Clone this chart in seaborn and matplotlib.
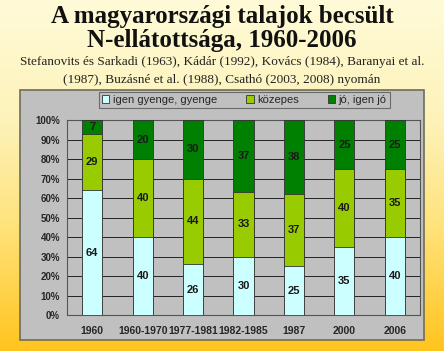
import numpy as np
import pandas as pd
import matplotlib
matplotlib.use("Agg")
import matplotlib.pyplot as plt
from matplotlib.colors import LinearSegmentedColormap
from matplotlib.patches import Rectangle
import seaborn as sns

categories = ["1960", "1960-1970", "1977-1981", "1982-1985", "1987", "2000", "2006"]
gyenge = [64, 40, 26, 30, 25, 35, 40]
kozepes = [29, 40, 44, 33, 37, 40, 35]
jo = [7, 20, 30, 37, 38, 25, 25]
series_names = ["igen gyenge, gyenge", "közepes", "jó, igen jó"]
yticks = [0, 10, 20, 30, 40, 50, 60, 70, 80, 90, 100]

title_lines = ["A magyarországi talajok becsült", "N-ellátottsága, 1960-2006"]
subtitle_lines = ["Stefanovits és Sarkadi (1963), Kádár (1992), Kovács (1984), Baranyai et al.",
                  "(1987), Buzásné et al. (1988), Csathó (2003, 2008) nyomán"]

colors = ["#ccffff", "#99cc00", "#008000"]

sns.set_style("white")
plt.rcParams['font.family'] = ['Liberation Sans', 'DejaVu Sans']

fig = plt.figure(figsize=(4.44, 3.51), dpi=100)

# background gradient
bg = fig.add_axes([0, 0, 1, 1], zorder=-10)
cmap = LinearSegmentedColormap.from_list(
    "bg", [(0.0, "#fffbd8"), (0.35, "#fdf2b8"), (0.65, "#ffe27a"), (1.0, "#ffc41e")])
grad = np.linspace(0, 1, 256).reshape(-1, 1)
bg.imshow(grad, aspect="auto", cmap=cmap, extent=[0, 1, 0, 1], origin="upper")
bg.axis("off")

# gray chart panel
panel = Rectangle((0.045, 0.031), 0.910, 0.713, transform=fig.transFigure,
                  facecolor="#c0c0c0", edgecolor="#6e6e5a", linewidth=1.2, zorder=-5)
fig.patches.append(panel)

fig.text(0.5, 0.953, title_lines[0], ha="center", va="center",
         family="Liberation Serif", fontweight="bold", fontsize=18, color="#111111")
fig.text(0.5, 0.884, title_lines[1], ha="center", va="center",
         family="Liberation Serif", fontweight="bold", fontsize=18, color="#111111")
fig.text(0.5, 0.823, subtitle_lines[0], ha="center", va="center",
         family="Liberation Serif", fontsize=9.5, color="#222222")
fig.text(0.5, 0.773, subtitle_lines[1], ha="center", va="center",
         family="Liberation Serif", fontsize=9.5, color="#222222")

ax = fig.add_axes([0.151, 0.1026, 0.795, 0.555])
ax.set_facecolor("#c0c0c0")

df = pd.DataFrame({"cat": categories, "g": gyenge, "k": kozepes, "j": jo})
df["gk"] = df["g"] + df["k"]
df["tot"] = df["gk"] + df["j"]

for col, c, name in zip(["tot", "gk", "g"], colors[::-1], series_names[::-1]):
    sns.barplot(data=df, x="cat", y=col, color=c, width=0.4, ax=ax,
                edgecolor="#333333", linewidth=0.6, label=name, saturation=1, zorder=3)

handles, labels = ax.get_legend_handles_labels()
if ax.get_legend() is not None:
    ax.get_legend().remove()

for i, row in df.iterrows():
    for lo, v in [(0, row["g"]), (row["g"], row["k"]), (row["gk"], row["j"])]:
        ax.text(i, lo + v / 2, f"{v}", ha="center", va="center", fontsize=8,
                fontweight="bold", color="#1a1a1a", zorder=5)

ax.set_ylim(0, 100)
ax.set_xlim(-0.5, len(categories) - 0.5)
ax.set_yticks(yticks)
ax.set_yticklabels([f"{t}%" for t in yticks], fontsize=7, fontweight="bold")
ax.set_xticks(range(len(categories)))
ax.set_xticklabels(categories, fontsize=7.5, fontweight="bold")
ax.set_xticks(np.arange(-0.5, len(categories)), minor=True)
ax.tick_params(axis="x", which="major", length=0, pad=8)
ax.tick_params(axis="x", which="minor", length=3, color="#333333")
ax.tick_params(axis="y", length=3, color="#333333", pad=2)
ax.set_xlabel("")
ax.set_ylabel("")
ax.yaxis.grid(True, color="#222222", linewidth=0.7, zorder=0)
ax.set_axisbelow(True)
for s in ax.spines.values():
    s.set_color("#555555")
    s.set_linewidth(0.8)

# legend
order = [labels.index(n) for n in series_names]
leg = fig.legend([handles[i] for i in order], [labels[i] for i in order],
                 loc="center", bbox_to_anchor=(0.550, 0.715), ncol=3, frameon=True,
                 fontsize=8, handlelength=0.7, handleheight=0.7, handletextpad=0.3,
                 columnspacing=2.6, borderpad=0.25, fancybox=False)
leg.get_frame().set_facecolor("#c0c0c0")
leg.get_frame().set_edgecolor("#555555")
leg.get_frame().set_linewidth(0.8)

fig.savefig("out.png", dpi=100)
